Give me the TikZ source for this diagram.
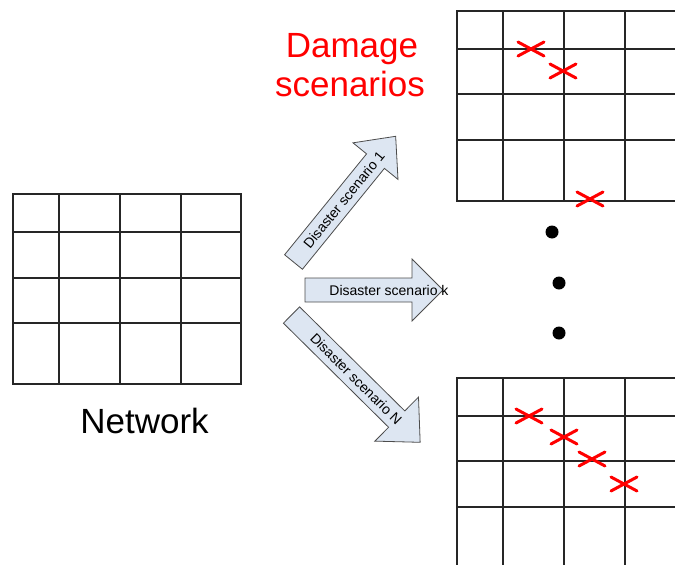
\documentclass[tikz,border=0pt]{standalone}
\usepackage{fontspec}
\setmainfont{Liberation Sans}
\begin{document}
\begin{tikzpicture}[x=1pt,y=-1pt,
  gridline/.style={draw=black!85, line width=1.3pt},
  cross/.style={draw=red, line width=3pt, line cap=round},
  bigarrow/.style={draw=black!70, fill=arrowfill, line width=0.8pt, line join=miter},
  arrowtext/.style={font=\fontsize{14}{16}\selectfont, inner sep=0pt, transform shape},
  dot/.style={fill=black, circle, inner sep=0pt, minimum size=13pt},
  bigtext/.style={font=\fontsize{35}{39}\selectfont, inner sep=0pt, anchor=base, align=center}]
\definecolor{arrowfill}{HTML}{DDE6F2}
\useasboundingbox (0,0) rectangle (675,565);

% Network grid
\draw[gridline] (13,194) rectangle (241,384);
\foreach \x in {59,120,181} \draw[gridline] (\x,194) -- (\x,384);
\foreach \y in {232,278,323} \draw[gridline] (13,\y) -- (241,\y);
\node[bigtext] (net) at (144.5,433) {Network};

% Damage scenarios label
\node[bigtext, text=red, anchor=base] (dmg1) at (352,57) {Damage};
\node[bigtext, text=red, anchor=base] (dmg2) at (350,96) {scenarios};

% Top damage grid
\draw[gridline] (675,11) -- (457,11) -- (457,201) -- (675,201);
\foreach \x in {503,564,625} \draw[gridline] (\x,11) -- (\x,201);
\foreach \y in {49,94,140} \draw[gridline] (457,\y) -- (675,\y);

% Bottom damage grid
\draw[gridline] (457,565) -- (457,378) -- (675,378);
\foreach \x in {503,564,625} \draw[gridline] (\x,378) -- (\x,565);
\foreach \y in {416,461,507} \draw[gridline] (457,\y) -- (675,\y);

% crosses
\foreach \cx/\cy in {531/49, 563/71, 590/199, 529/416, 564/437, 592/459, 624/484}
  \draw[cross] (\cx-13,\cy-7) -- (\cx+13,\cy+7) (\cx-13,\cy+7) -- (\cx+13,\cy-7);

% dots
\node[dot] (d1) at (552,232) {};
\node[dot] (d2) at (559,283) {};
\node[dot] (d3) at (559,333) {};

% Arrow 1
\begin{scope}[shift={(293.5,262)}, rotate=50.9]
  \draw[bigarrow] (0,-11.5) -- (130,-11.5) -- (130,-29) -- (162,0) -- (130,29) -- (130,11.5) -- (0,11.5) -- cycle;
  \node[arrowtext] (a1) at (80,0) {Disaster scenario 1};
\end{scope}

% Arrow k
\begin{scope}[shift={(305,290)}]
  \draw[bigarrow] (0,-12) -- (107,-12) -- (107,-31) -- (138,0) -- (107,31) -- (107,12) -- (0,12) -- cycle;
  \node[arrowtext] (ak) at (84,0) {Disaster scenario k};
\end{scope}

% Arrow N
\begin{scope}[shift={(291.5,315)}, rotate=-44.7]
  \draw[bigarrow] (0,-11.5) -- (148,-11.5) -- (148,-31) -- (181,0) -- (148,31) -- (148,11.5) -- (0,11.5) -- cycle;
  \node[arrowtext] (aN) at (91,0) {Disaster scenario N};
\end{scope}
\end{tikzpicture}
\end{document}
